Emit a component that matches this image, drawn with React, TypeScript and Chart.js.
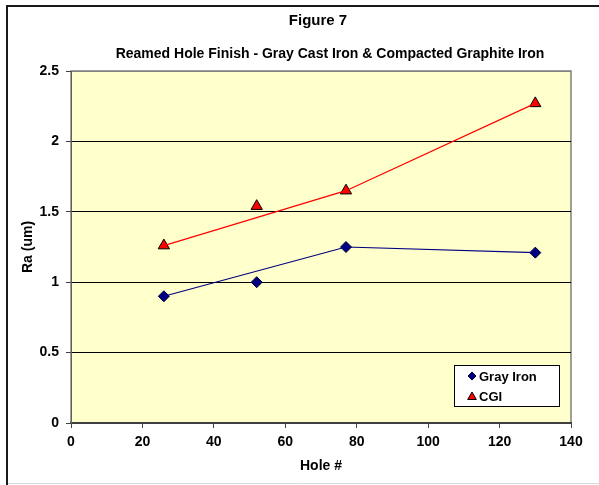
import React, { useEffect, useRef } from "react";
import { Chart, registerables } from "chart.js";

Chart.register(...registerables);

const FONT = '"Liberation Sans", Arial, Helvetica, sans-serif';

const mainTitle = "Figure 7";
const subTitle = "Reamed Hole Finish - Gray Cast Iron & Compacted Graphite Iron";
const xAxisTitle = "Hole #";
const yAxisTitle = "Ra (um)";

const seriesNames = ["Gray Iron", "CGI"];
const holeNumbers = [26, 52, 77, 130];
const grayIron = [0.9, 1.0, 1.25, 1.21];
const cgi = [1.26, 1.54, 1.65, 2.27];

// connecting lines (drawn through these holes only)
const lineHoles = [26, 77, 130];
const grayIronLine = [0.9, 1.25, 1.21];
const cgiLine = [1.26, 1.65, 2.27];

const xTicks = [0, 20, 40, 60, 80, 100, 120, 140];
const yTicks = [0, 0.5, 1, 1.5, 2, 2.5];

const NAVY = "#000080";
const RED = "#FF0000";

function drawDiamond(ctx: CanvasRenderingContext2D, x: number, y: number, r: number) {
  ctx.beginPath();
  ctx.moveTo(x, y - r);
  ctx.lineTo(x + r, y);
  ctx.lineTo(x, y + r);
  ctx.lineTo(x - r, y);
  ctx.closePath();
  ctx.fillStyle = NAVY;
  ctx.fill();
  ctx.strokeStyle = "#000033";
  ctx.lineWidth = 1;
  ctx.stroke();
}

function drawTriangle(ctx: CanvasRenderingContext2D, x: number, y: number, r: number) {
  ctx.beginPath();
  for (let i = 0; i < 3; i++) {
    const a = (i * 2 * Math.PI) / 3;
    const px = x + Math.sin(a) * r;
    const py = y - Math.cos(a) * r;
    if (i === 0) ctx.moveTo(px, py);
    else ctx.lineTo(px, py);
  }
  ctx.closePath();
  ctx.fillStyle = RED;
  ctx.fill();
  ctx.strokeStyle = "#000000";
  ctx.lineWidth = 1;
  ctx.stroke();
}

const framePlugin = {
  id: "framePlugin",
  beforeDraw(chart: any) {
    const { ctx, chartArea } = chart;
    ctx.save();
    ctx.fillStyle = "#FFFFFF";
    ctx.fillRect(0, 0, chart.width, chart.height);
    // outer frame
    ctx.strokeStyle = "#1a1a1a";
    ctx.lineWidth = 2;
    ctx.beginPath();
    ctx.moveTo(7, 485);
    ctx.lineTo(7, 6);
    ctx.lineTo(599, 6);
    ctx.stroke();
    ctx.strokeStyle = "#d8d8d8";
    ctx.lineWidth = 1;
    ctx.beginPath();
    ctx.moveTo(8, 483.5);
    ctx.lineTo(599, 483.5);
    ctx.stroke();
    // plot area
    ctx.fillStyle = "#FFFFCC";
    ctx.fillRect(chartArea.left, chartArea.top, chartArea.right - chartArea.left, chartArea.bottom - chartArea.top);
    ctx.strokeStyle = "#808080";
    ctx.lineWidth = 1.5;
    ctx.strokeRect(chartArea.left, chartArea.top, chartArea.right - chartArea.left, chartArea.bottom - chartArea.top);
    // titles
    ctx.fillStyle = "#000000";
    ctx.textAlign = "center";
    ctx.textBaseline = "alphabetic";
    ctx.font = `bold 15px ${FONT}`;
    ctx.fillText(mainTitle, 318, 25);
    ctx.font = `bold 14px ${FONT}`;
    ctx.fillText(subTitle, 330, 58);
    ctx.restore();
  },
  afterDatasetsDraw(chart: any) {
    const { ctx, chartArea } = chart;
    ctx.save();
    const right = chartArea.right - 11;
    const bottom = chartArea.bottom - 16;
    const w = 106;
    const h = 42;
    const left = right - w;
    const top = bottom - h;
    ctx.fillStyle = "#FFFFFF";
    ctx.fillRect(left, top, w, h);
    ctx.strokeStyle = "#000000";
    ctx.lineWidth = 1;
    ctx.strokeRect(left + 0.5, top + 0.5, w - 1, h - 1);
    ctx.font = `bold 13px ${FONT}`;
    ctx.textAlign = "left";
    ctx.textBaseline = "middle";
    ctx.fillStyle = "#000000";
    const row1 = top + 11;
    const row2 = top + 31;
    drawDiamond(ctx, left + 18, row1, 4);
    ctx.fillStyle = "#000000";
    ctx.fillText(seriesNames[0], left + 25, row1 + 1);
    drawTriangle(ctx, left + 18, row2 + 1, 5);
    ctx.fillStyle = "#000000";
    ctx.fillText(seriesNames[1], left + 25, row2 + 1);
    ctx.restore();
  },
};

export default function App() {
  const canvasRef = useRef<HTMLCanvasElement | null>(null);

  useEffect(() => {
    const canvas = canvasRef.current;
    if (!canvas) return;
    const toPts = (xs: number[], ys: number[]) => xs.map((x, i) => ({ x, y: ys[i] }));
    const chart = new Chart(canvas, {
      type: "scatter",
      data: {
        datasets: [
          {
            label: seriesNames[0] + " line",
            data: toPts(lineHoles, grayIronLine),
            showLine: true,
            borderColor: NAVY,
            borderWidth: 1.2,
            pointRadius: 0,
            pointHoverRadius: 0,
            fill: false,
          },
          {
            label: seriesNames[1] + " line",
            data: toPts(lineHoles, cgiLine),
            showLine: true,
            borderColor: RED,
            borderWidth: 1.2,
            pointRadius: 0,
            pointHoverRadius: 0,
            fill: false,
          },
          {
            label: seriesNames[0],
            data: toPts(holeNumbers, grayIron),
            showLine: false,
            pointStyle: "rectRot",
            pointRadius: 5.5,
            backgroundColor: NAVY,
            borderColor: "#000033",
            borderWidth: 1,
          },
          {
            label: seriesNames[1],
            data: toPts(holeNumbers, cgi),
            showLine: false,
            pointStyle: "triangle",
            pointRadius: 6.5,
            backgroundColor: RED,
            borderColor: "#000000",
            borderWidth: 1,
          },
        ],
      },
      options: {
        responsive: false,
        animation: false,
        devicePixelRatio: 1,
        layout: { padding: { left: 8, right: 28, top: 71, bottom: 2 } },
        plugins: {
          legend: { display: false },
          title: { display: false },
          tooltip: { enabled: false },
        },
        scales: {
          x: {
            type: "linear",
            min: 0,
            max: 140,
            afterBuildTicks: (s: any) => {
              s.ticks = xTicks.map((v) => ({ value: v }));
            },
            afterFit: (s: any) => {
              s.height = 60;
            },
            grid: {
              drawOnChartArea: false,
              drawTicks: true,
              tickLength: 5,
              tickColor: "#404040",
              tickWidth: 1,
            },
            border: { display: true, color: "#404040", width: 2 },
            ticks: {
              color: "#000000",
              padding: 6,
              maxRotation: 0,
              font: { family: FONT, size: 14, weight: "bold" },
            },
            title: {
              display: true,
              text: xAxisTitle,
              color: "#000000",
              padding: { top: 0, bottom: 8 },
              font: { family: FONT, size: 14, weight: "bold" },
            },
          },
          y: {
            type: "linear",
            min: 0,
            max: 2.5,
            afterBuildTicks: (s: any) => {
              s.ticks = yTicks.map((v) => ({ value: v }));
            },
            afterFit: (s: any) => {
              s.width = 63;
            },
            grid: {
              drawOnChartArea: true,
              drawTicks: true,
              tickLength: 5,
              color: (c: any) => (c.tick && c.tick.value === 2.5 ? "#808080" : c.tick && c.tick.value === 0 ? "#404040" : "#000000"),
              tickColor: "#404040",
              lineWidth: 1,
            },
            border: { display: true, color: "#606060", width: 1 },
            ticks: {
              color: "#000000",
              padding: 7,
              font: { family: FONT, size: 14, weight: "bold" },
              callback: (v: any) => String(v),
            },
            title: {
              display: true,
              text: yAxisTitle,
              color: "#000000",
              padding: { top: 12, bottom: 0 },
              font: { family: FONT, size: 14, weight: "bold" },
            },
          },
        },
      },
      plugins: [framePlugin],
    });
    return () => chart.destroy();
  }, []);

  return (
    <div style={{ position: "absolute", left: 0, top: 0, width: 599, height: 485 }}>
      <canvas ref={canvasRef} width={599} height={485} style={{ width: 599, height: 485, display: "block" }} />
    </div>
  );
}
